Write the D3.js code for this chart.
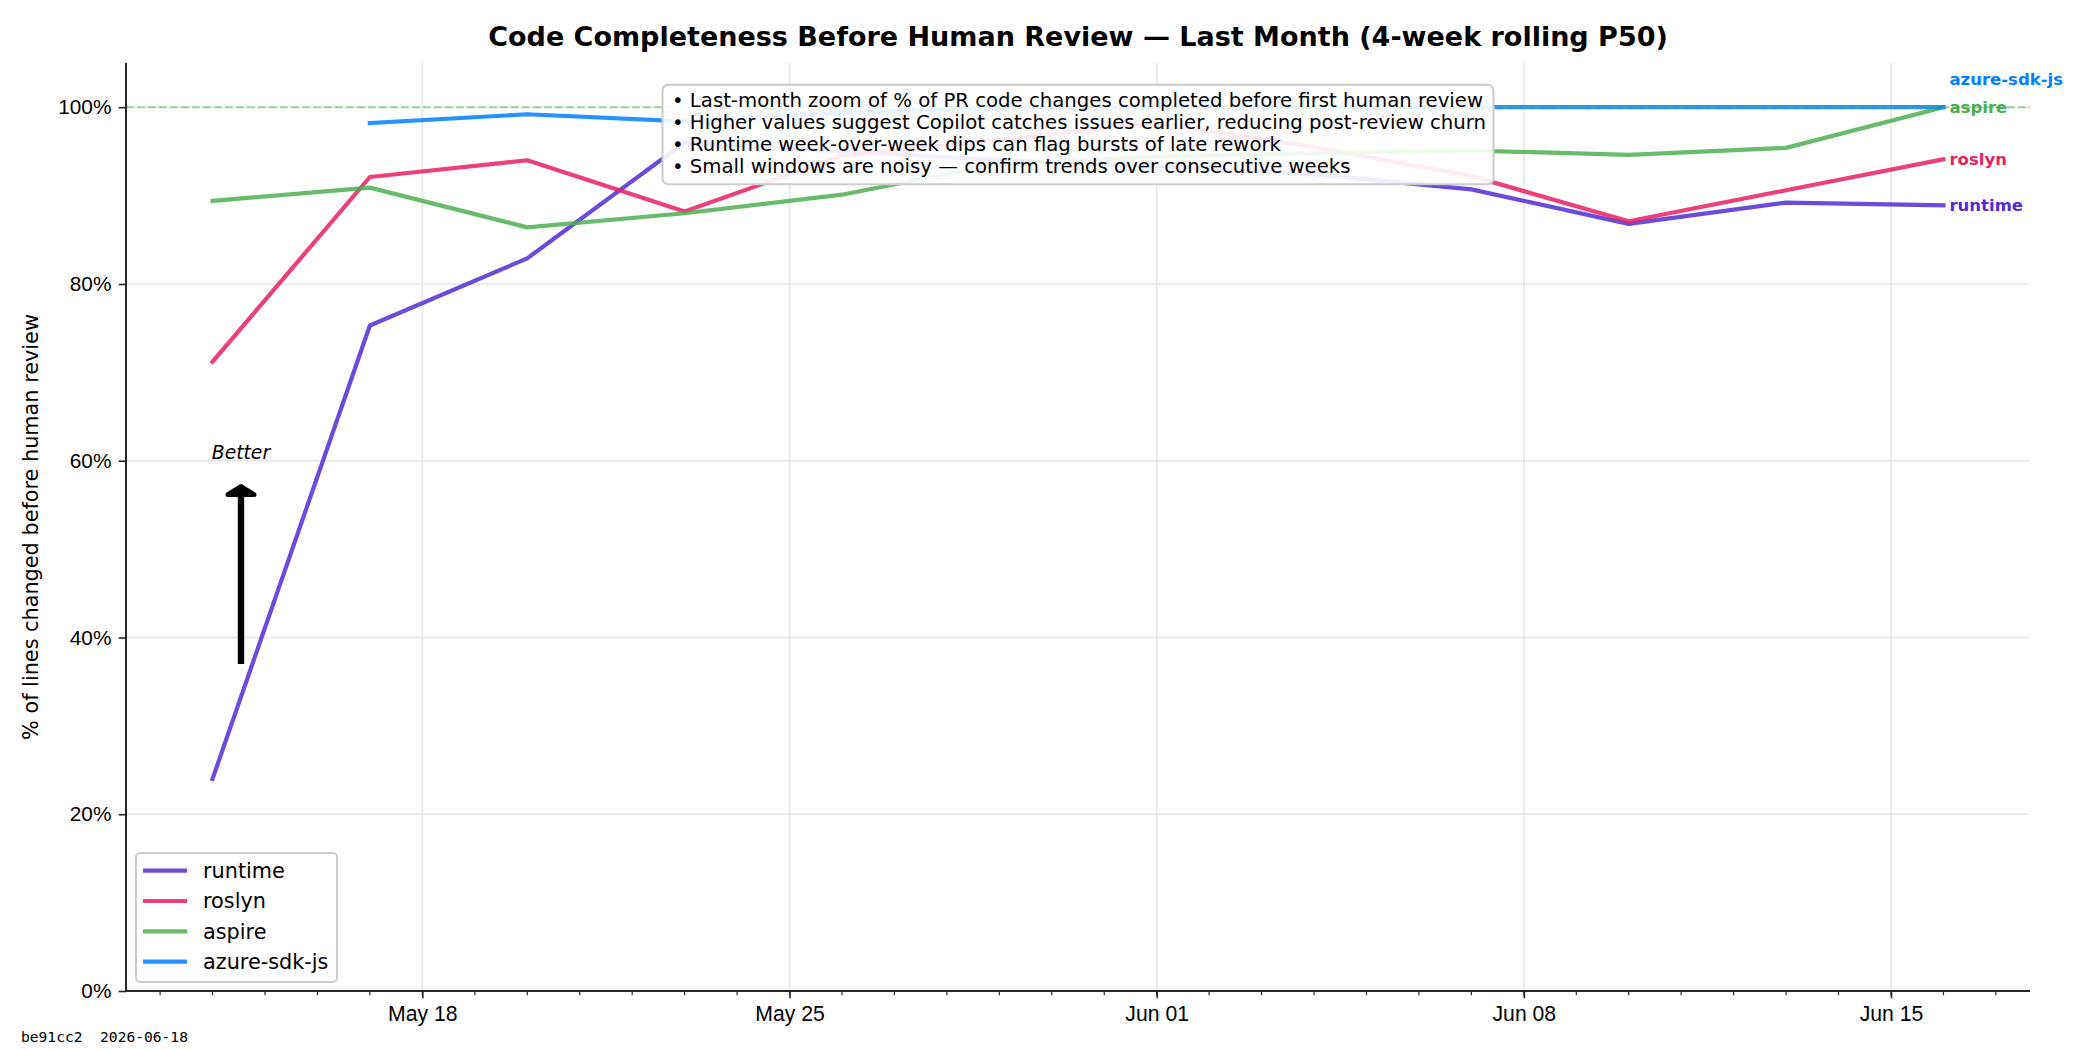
<!DOCTYPE html>
<html>
<head>
<meta charset="utf-8">
<script src="https://cdn.jsdelivr.net/npm/d3@7"></script>
<style>
  body { margin: 0; background: #fff; }
  svg { display: block; font-family: "DejaVu Sans", sans-serif; }
</style>
</head>
<body>
<svg id="chart" width="2100" height="1050"></svg>
<script>
// Data
const dates = ["2026-05-14", "2026-05-17", "2026-05-20", "2026-05-23", "2026-05-26", "2026-05-29",
               "2026-06-01", "2026-06-04", "2026-06-07", "2026-06-10", "2026-06-13", "2026-06-16"];
const runtime = [24.0, 75.3, 82.9, 96.0, 95.0, 94.0, 93.3, 92.4, 90.7, 86.8, 89.2, 88.9];
const roslyn = [71.2, 92.1, 94.0, 88.2, 94.5, 96.3, 98.2, 95.5, 92.2, 87.1, 90.6, 94.1];
const aspire = [89.4, 90.9, 86.4, 88.0, 90.1, 93.6, 94.4, 94.8, 95.1, 94.6, 95.4, 100.0];
const azureSdkJs = [null, 98.2, 99.2, 98.4, 99.4, 99.9, 100.0, 100.0, 100.0, 100.0, 100.0, 100.0];

const seriesNames = ["runtime", "roslyn", "aspire", "azure-sdk-js"];
const seriesValues = [runtime, roslyn, aspire, azureSdkJs];
const seriesColors = ["#512BD4", "#E91E63", "#4CAF50", "#007FFF"];

const yTicks = [0, 20, 40, 60, 80, 100];
const xTicks = ["2026-05-18", "2026-05-25", "2026-06-01", "2026-06-08", "2026-06-15"];

const titleText = "Code Completeness Before Human Review \u2014 Last Month (4-week rolling P50)";
const yLabelText = "% of lines changed before human review";
const notes = [
  "\u2022 Last-month zoom of % of PR code changes completed before first human review",
  "\u2022 Higher values suggest Copilot catches issues earlier, reducing post-review churn",
  "\u2022 Runtime week-over-week dips can flag bursts of late rework",
  "\u2022 Small windows are noisy \u2014 confirm trends over consecutive weeks"
];
const footerText = "be91cc2  2026-06-18";

// Layout
const width = 2100, height = 1050;
const margin = { top: 63, right: 70, bottom: 59, left: 126 };
const innerW = width - margin.left - margin.right;
const innerH = height - margin.top - margin.bottom;

const parse = d3.utcParse("%Y-%m-%d");
const dateObjs = dates.map(parse);

// x domain padded by 5% each side like matplotlib
const [d0, d1] = d3.extent(dateObjs);
const pad = (d1 - d0) * 0.05;
const x = d3.scaleUtc()
  .domain([new Date(+d0 - pad), new Date(+d1 + pad)])
  .range([0, innerW]);
const y = d3.scaleLinear().domain([0, 105]).range([innerH, 0]);

const svg = d3.select("#chart");
const g = svg.append("g").attr("transform", `translate(${margin.left},${margin.top})`);

// Grid
g.append("g")
  .selectAll("line")
  .data(xTicks.map(parse))
  .enter()
  .append("line")
  .attr("x1", (d) => x(d))
  .attr("x2", (d) => x(d))
  .attr("y1", 0)
  .attr("y2", innerH)
  .attr("stroke", "#e6e6e6")
  .attr("stroke-width", 1.6);

g.append("g")
  .selectAll("line")
  .data(yTicks.filter((d) => d > 0))
  .enter()
  .append("line")
  .attr("x1", 0)
  .attr("x2", innerW)
  .attr("y1", (d) => y(d))
  .attr("y2", (d) => y(d))
  .attr("stroke", "#e6e6e6")
  .attr("stroke-width", 1.6);

// Series lines
const line = d3.line()
  .defined((d) => d.v != null)
  .x((d) => x(d.date))
  .y((d) => y(d.v));

const series = seriesNames.map((name, i) => ({
  name,
  color: seriesColors[i],
  points: dateObjs.map((date, j) => ({ date, v: seriesValues[i][j] }))
}));

g.append("g")
  .selectAll("path")
  .data(series)
  .enter()
  .append("path")
  .attr("d", (d) => line(d.points))
  .attr("fill", "none")
  .attr("stroke", (d) => d.color)
  .attr("stroke-opacity", 0.85)
  .attr("stroke-width", 4.2)
  .attr("stroke-linejoin", "round")
  .attr("stroke-linecap", "square");

// 100% reference line
g.append("line")
  .attr("x1", 0)
  .attr("x2", innerW)
  .attr("y1", y(100))
  .attr("y2", y(100))
  .attr("stroke", "#4CAF50")
  .attr("stroke-opacity", 0.5)
  .attr("stroke-width", 2)
  .attr("stroke-dasharray", "7.7,3.3");

// End labels, nudged apart when they collide
const labelGap = 28;
const ends = series.map((s) => {
  const last = s.points.filter((p) => p.v != null).slice(-1)[0];
  return { name: s.name, color: s.color, x: x(last.date), y: y(last.v) };
});
const sortedEnds = ends.slice().sort((a, b) => b.y - a.y);
for (let i = 1; i < sortedEnds.length; i++) {
  if (sortedEnds[i - 1].y - sortedEnds[i].y < labelGap) {
    sortedEnds[i].y = sortedEnds[i - 1].y - labelGap;
  }
}
g.append("g")
  .selectAll("text")
  .data(ends)
  .enter()
  .append("text")
  .attr("x", (d) => d.x + 6)
  .attr("y", (d) => d.y)
  .attr("dy", "0.36em")
  .attr("fill", (d) => d.color)
  .style("font-size", "16.5px")
  .style("font-weight", "bold")
  .text((d) => d.name);

// Axes
const xAxis = g.append("g")
  .attr("transform", `translate(0,${innerH})`)
  .call(d3.axisBottom(x).tickValues(xTicks.map(parse)).tickFormat(d3.utcFormat("%b %d")).tickSize(7.3).tickPadding(8));
xAxis.selectAll("text").style("font-size", "21.2px").attr("fill", "#000");

// minor daily ticks
const minorTicks = d3.utcDay.range(x.domain()[0], x.domain()[1]);
xAxis.append("g")
  .selectAll("line")
  .data(minorTicks)
  .enter()
  .append("line")
  .attr("x1", (d) => x(d))
  .attr("x2", (d) => x(d))
  .attr("y1", 0)
  .attr("y2", 4.2)
  .attr("stroke", "#262626")
  .attr("stroke-width", 1.2);

const yAxis = g.append("g")
  .call(d3.axisLeft(y).tickValues(yTicks).tickFormat((d) => d + "%").tickSize(7.3).tickPadding(7.3));
yAxis.selectAll("text").style("font-size", "20.8px").attr("fill", "#000");

[xAxis, yAxis].forEach((a) => {
  a.select(".domain").remove();
  a.selectAll(".tick line").attr("stroke", "#262626").attr("stroke-width", 1.6);
});
// left and bottom spines only
g.append("line").attr("x1", 0).attr("x2", innerW).attr("y1", innerH).attr("y2", innerH)
  .attr("stroke", "#262626").attr("stroke-width", 2);
g.append("line").attr("x1", 0).attr("x2", 0).attr("y1", 0).attr("y2", innerH)
  .attr("stroke", "#262626").attr("stroke-width", 2);

// "Better" arrow
const arrowX = x(new Date(Date.UTC(2026, 4, 14, 13)));
const tipY = y(57.3);
g.append("line")
  .attr("x1", arrowX).attr("x2", arrowX)
  .attr("y1", y(37)).attr("y2", tipY + 2)
  .attr("stroke", "#000").attr("stroke-width", 6.4);
g.append("path")
  .attr("d", `M${arrowX - 13},${tipY + 10} L${arrowX},${tipY + 2} L${arrowX + 13},${tipY + 10} Z`)
  .attr("fill", "#000")
  .attr("stroke", "#000")
  .attr("stroke-width", 5)
  .attr("stroke-linejoin", "round");
g.append("text")
  .attr("x", arrowX)
  .attr("y", y(60) - 2)
  .attr("text-anchor", "middle")
  .style("font-size", "18.75px")
  .style("font-style", "italic")
  .text("Better");

// Notes box
const noteBox = g.append("g");
const boxRect = noteBox.append("rect");
const noteText = noteBox.append("g");
const noteLines = noteText.selectAll("text")
  .data(notes)
  .enter()
  .append("text")
  .attr("y", (d, i) => 22.5 + i * 22)
  .style("font-size", "19.7px")
  .attr("fill", "#000")
  .text((d) => d);
let noteW = 0;
noteLines.each(function () { noteW = Math.max(noteW, this.getComputedTextLength()); });
const boxPad = 8.5;
const boxW = noteW + boxPad * 2;
const boxH = 99.5;
const boxLeft = innerW / 2 - boxW / 2;
const boxTop = 21.7;
boxRect
  .attr("x", boxLeft).attr("y", boxTop)
  .attr("width", boxW).attr("height", boxH)
  .attr("rx", 6).attr("ry", 6)
  .attr("fill", "#fff").attr("fill-opacity", 0.9)
  .attr("stroke", "#cccccc").attr("stroke-width", 2);
noteText.attr("transform", `translate(${boxLeft + boxPad + 1},${boxTop})`);

// Legend
const legend = g.append("g").attr("transform", `translate(${136 - margin.left},${853 - margin.top})`);
legend.append("rect")
  .attr("width", 201).attr("height", 129)
  .attr("rx", 4).attr("ry", 4)
  .attr("fill", "#fff").attr("fill-opacity", 0.8)
  .attr("stroke", "#cccccc").attr("stroke-width", 2);
const legendItems = legend.selectAll(".item")
  .data(series)
  .enter()
  .append("g")
  .attr("class", "item")
  .attr("transform", (d, i) => `translate(0,${17.7 + i * 30.3})`);
legendItems.append("line")
  .attr("x1", 7).attr("x2", 51)
  .attr("stroke", (d) => d.color)
  .attr("stroke-opacity", 0.85)
  .attr("stroke-width", 4.2);
legendItems.append("text")
  .attr("x", 67)
  .attr("dy", "0.35em")
  .style("font-size", "20.8px")
  .text((d) => d.name);

// Title, axis label, footer
svg.append("text")
  .attr("x", margin.left + innerW / 2)
  .attr("y", 46)
  .attr("text-anchor", "middle")
  .style("font-size", "27px")
  .style("font-weight", "bold")
  .text(titleText);

svg.append("text")
  .attr("transform", `translate(38,${margin.top + innerH / 2}) rotate(-90)`)
  .attr("text-anchor", "middle")
  .style("font-size", "20.8px")
  .text(yLabelText);

svg.append("text")
  .attr("x", 21)
  .attr("y", 1042)
  .style("font-family", "'DejaVu Sans Mono', monospace")
  .style("font-size", "14.6px")
  .style("white-space", "pre")
  .text(footerText);
</script>
</body>
</html>
